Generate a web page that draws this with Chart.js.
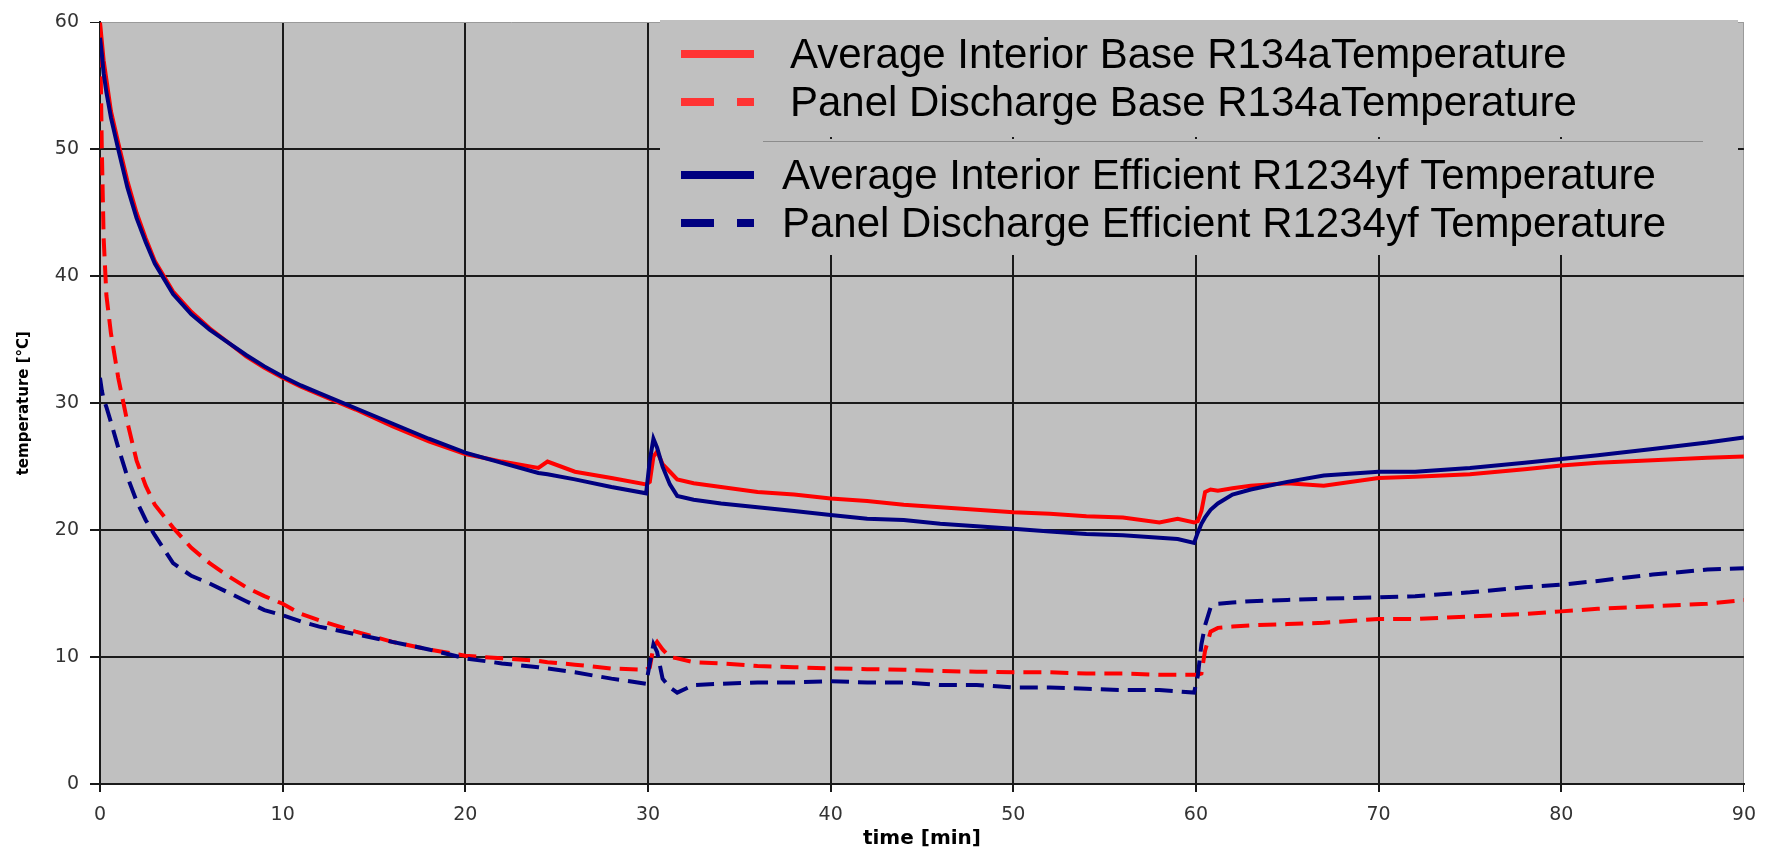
<!DOCTYPE html>
<html>
<head>
<meta charset="utf-8">
<title>Temperature pull-down</title>
<script src="https://cdn.jsdelivr.net/npm/chart.js@4.4.1/dist/chart.umd.min.js"></script>
<style>
  html, body { margin: 0; padding: 0; background: #ffffff; }
  #chart { display: block; }
</style>
</head>
<body>
<canvas id="chart" width="1768" height="854"></canvas>
<script>
// time axis [min], shared by all four series
const times = [0, 0.1, 0.2, 0.35, 0.6, 1, 1.5, 2, 2.5, 3, 4, 5, 6, 7, 8, 9, 10, 11, 12, 14, 16, 18, 20, 22, 24, 24.5, 26, 28, 29.9,
  30.1, 30.3, 30.5, 30.8, 31.2, 31.6, 32.5, 34, 36, 38, 40, 42, 44, 46, 48, 50, 52, 54, 56, 58, 59, 59.9,
  60.1, 60.3, 60.5, 60.8, 61.2, 62, 63, 65, 67, 70, 72, 75, 78, 80, 82, 85, 88, 90];

// Average Interior Base R134a (red solid)
const avgBaseR134a = [60, 58.5, 57, 55.5, 53, 50.5, 47.5, 45, 43, 41.2, 38.8, 37.2, 35.9, 34.8, 33.7, 32.8, 32.0, 31.3, 30.7, 29.5, 28.2, 27.0, 26.0, 25.4, 24.9, 25.4, 24.6, 24.1, 23.6,
  23.8, 25.8, 26.2, 25.2, 24.6, 24.0, 23.7, 23.4, 23.0, 22.8, 22.5, 22.3, 22.0, 21.8, 21.6, 21.4, 21.3, 21.1, 21.0, 20.6, 20.9, 20.6,
  20.7, 21.5, 23.0, 23.2, 23.1, 23.3, 23.5, 23.7, 23.5, 24.1, 24.2, 24.4, 24.8, 25.1, 25.3, 25.5, 25.7, 25.8];

// Panel Discharge Base R134a (red dashed)
const panelBaseR134a = [60, 50, 43, 38.5, 35.5, 32, 28.5, 25.5, 23.5, 22, 20.2, 18.6, 17.4, 16.4, 15.5, 14.8, 14.2, 13.4, 12.9, 12.0, 11.2, 10.6, 10.1, 9.9, 9.7, 9.6, 9.4, 9.1, 9.0,
  9.2, 10.8, 11.2, 10.6, 10.0, 9.9, 9.6, 9.5, 9.3, 9.2, 9.1, 9.05, 9.0, 8.9, 8.85, 8.8, 8.8, 8.7, 8.7, 8.6, 8.6, 8.6,
  8.6, 8.7, 10.5, 12.0, 12.3, 12.4, 12.5, 12.6, 12.7, 13.0, 13.0, 13.2, 13.4, 13.6, 13.8, 14.0, 14.2, 14.5];

// Average Interior Efficient R1234yf (navy solid)
const avgEffR1234yf = [58.8, 57.5, 56, 54.5, 52.5, 50, 47, 44.6, 42.7, 41, 38.6, 37.0, 35.8, 34.8, 33.8, 32.9, 32.1, 31.4, 30.8, 29.6, 28.4, 27.2, 26.1, 25.3, 24.5, 24.4, 24.0, 23.4, 22.9,
  25.5, 27.2, 26.5, 25.0, 23.6, 22.7, 22.4, 22.1, 21.8, 21.5, 21.2, 20.9, 20.8, 20.5, 20.3, 20.1, 19.9, 19.7, 19.6, 19.4, 19.3, 19.0,
  19.8, 20.5, 21.0, 21.6, 22.1, 22.8, 23.2, 23.8, 24.3, 24.6, 24.6, 24.9, 25.3, 25.6, 25.9, 26.4, 26.9, 27.3];

// Panel Discharge Efficient R1234yf (navy dashed)
const panelEffR1234yf = [32, 31, 30.3, 29.7, 28.5, 26.5, 24.2, 22.3, 20.8, 19.6, 17.4, 16.4, 15.8, 15.1, 14.4, 13.7, 13.3, 12.8, 12.4, 11.8, 11.2, 10.6, 9.9, 9.5, 9.2, 9.1, 8.8, 8.3, 7.9,
  9.5, 11.0, 10.4, 8.3, 7.6, 7.2, 7.8, 7.9, 8.0, 8.0, 8.1, 8.0, 8.0, 7.8, 7.8, 7.6, 7.6, 7.5, 7.4, 7.4, 7.3, 7.2,
  8.5, 11.0, 12.5, 13.9, 14.2, 14.3, 14.4, 14.5, 14.6, 14.7, 14.8, 15.1, 15.5, 15.7, 16.0, 16.5, 16.9, 17.0];

const seriesLabels = [
  'Average Interior Base R134aTemperature',
  'Panel Discharge Base R134aTemperature',
  'Average Interior Efficient R1234yf Temperature',
  'Panel Discharge Efficient R1234yf Temperature'
];

function toPoints(values) {
  return values.map((v, i) => ({ x: times[i], y: v }));
}

const RED = '#ff0000';
const NAVY = '#000080';
const DASH = [18, 9];

// grey plot area behind the grid
const plotBackground = {
  id: 'plotBackground',
  beforeDraw(chart) {
    const { ctx, chartArea } = chart;
    ctx.save();
    ctx.fillStyle = '#c0c0c0';
    ctx.fillRect(chartArea.left, chartArea.top, chartArea.right - chartArea.left, chartArea.bottom - chartArea.top);
    ctx.restore();
  }
};

// the two grey legend blocks inside the plot
const boxLegend = {
  id: 'boxLegend',
  afterDatasetsDraw(chart) {
    const ctx = chart.ctx;
    const ds = chart.data.datasets;
    ctx.save();
    ctx.fillStyle = '#c0c0c0';
    ctx.fillRect(660, 20, 1078, 117);
    ctx.fillRect(660, 143, 1078, 112);
    ctx.fillRect(763, 139, 940, 5);
    ctx.strokeStyle = '#8c8c8c';
    ctx.lineWidth = 1;
    ctx.beginPath();
    ctx.moveTo(763, 141.5);
    ctx.lineTo(1703, 141.5);
    ctx.stroke();

    const rows = [
      { y: 54, textX: 790, color: '#ff3333', dashed: false },
      { y: 102, textX: 790, color: '#ff3333', dashed: true },
      { y: 175, textX: 782, color: NAVY, dashed: false },
      { y: 223, textX: 782, color: NAVY, dashed: true }
    ];
    ctx.font = '42px "Liberation Sans", Arial, sans-serif';
    ctx.textBaseline = 'alphabetic';
    ctx.textAlign = 'left';
    rows.forEach((r, i) => {
      ctx.fillStyle = r.color;
      if (r.dashed) {
        ctx.fillRect(681, r.y - 4, 33, 8);
        ctx.fillRect(737, r.y - 4, 17, 8);
      } else {
        ctx.fillRect(681, r.y - 4, 73, 8);
      }
      ctx.fillStyle = '#000000';
      ctx.fillText(ds[i].label, r.textX, r.y + 14);
    });
    ctx.restore();
  }
};

const ctx = document.getElementById('chart').getContext('2d');
const chart = new Chart(ctx, {
  type: 'line',
  data: {
    datasets: [
      { label: seriesLabels[0], data: toPoints(avgBaseR134a), borderColor: RED, borderWidth: 4, order: 2 },
      { label: seriesLabels[1], data: toPoints(panelBaseR134a), borderColor: RED, borderWidth: 4, borderDash: DASH, order: 2 },
      { label: seriesLabels[2], data: toPoints(avgEffR1234yf), borderColor: NAVY, borderWidth: 4, order: 1 },
      { label: seriesLabels[3], data: toPoints(panelEffR1234yf), borderColor: NAVY, borderWidth: 4, borderDash: DASH, order: 1 }
    ]
  },
  options: {
    responsive: false,
    animation: false,
    layout: { padding: { top: 13, right: 21, left: 0, bottom: 0 } },
    elements: {
      point: { radius: 0 },
      line: { tension: 0, fill: false, borderCapStyle: 'butt', borderJoinStyle: 'miter' }
    },
    plugins: {
      legend: { display: false },
      tooltip: { enabled: false }
    },
    scales: {
      x: {
        type: 'linear',
        min: 0,
        max: 90,
        ticks: {
          stepSize: 10,
          padding: 12,
          color: '#333333',
          font: { family: '"DejaVu Sans"', size: 19 }
        },
        grid: {
          color: (c) => (c.tick && c.tick.value === 90 ? '#9a9a9a' : '#1a1a1a'),
          lineWidth: (c) => (c.tick && c.tick.value === 90 ? 1 : 2),
          tickColor: '#1a1a1a',
          tickLength: 8
        },
        border: { color: '#1a1a1a', width: 2 },
        title: {
          display: true,
          text: 'time [min]',
          color: '#000000',
          font: { family: '"DejaVu Sans"', size: 20, weight: 'bold' },
          padding: { top: 0, bottom: 3 }
        },
        afterFit(scale) { scale.height = 70; }
      },
      y: {
        min: 0,
        max: 60,
        ticks: {
          stepSize: 10,
          padding: 11,
          color: '#333333',
          font: { family: '"DejaVu Sans"', size: 19 }
        },
        grid: {
          color: (c) => (c.tick && c.tick.value === 60 ? '#9a9a9a' : '#1a1a1a'),
          lineWidth: (c) => (c.tick && c.tick.value === 60 ? 1 : 2),
          tickColor: '#1a1a1a',
          tickLength: 10
        },
        border: { color: '#1a1a1a', width: 2 },
        title: {
          display: true,
          text: 'temperature [°C]',
          color: '#000000',
          font: { family: '"DejaVu Sans"', size: 15, weight: 'bold' },
          padding: { top: 15, bottom: 0 }
        },
        afterFit(scale) { scale.width = 100; }
      }
    }
  },
  plugins: [plotBackground, boxLegend]
});
</script>
</body>
</html>
